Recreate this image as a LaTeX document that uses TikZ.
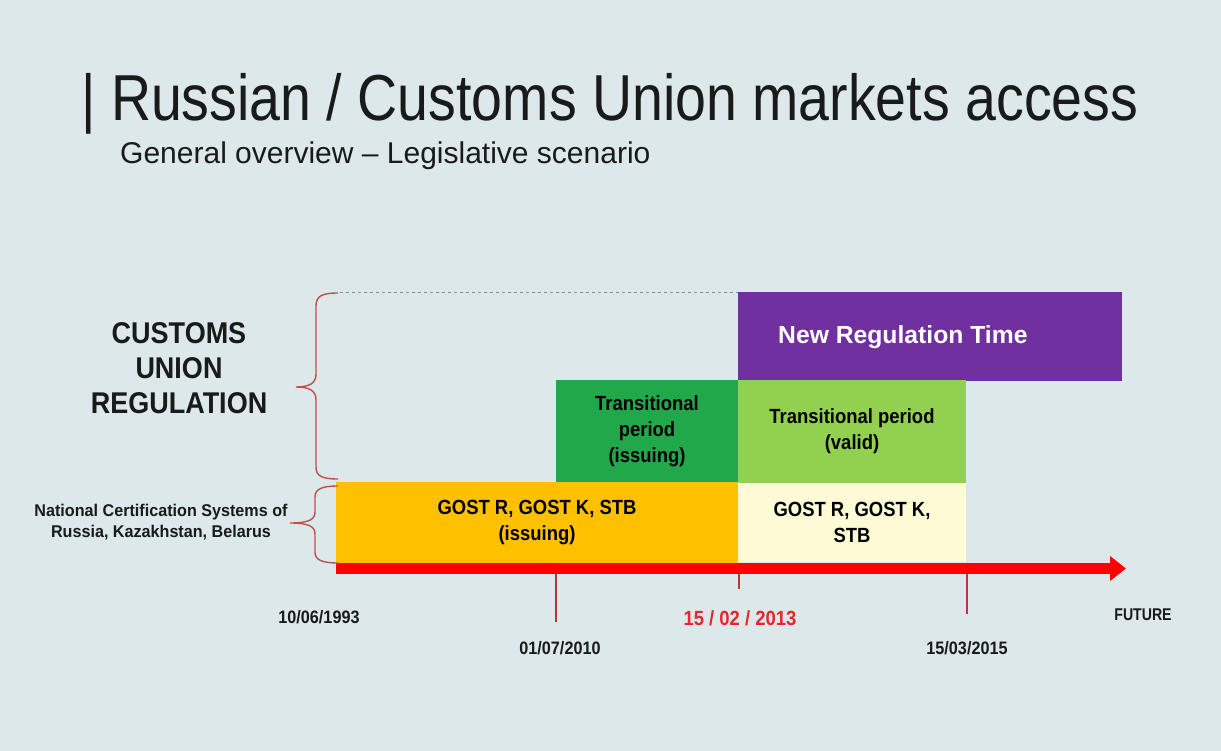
\documentclass[tikz,border=0pt]{standalone}
\usepackage{fontspec}
\setmainfont{Liberation Sans}
% narrower cuts of the same family for the labels
\newfontfamily\titlefont[FakeStretch=0.854]{Liberation Sans}
\newfontfamily\narrowfont[FakeStretch=0.9]{Liberation Sans}
\newfontfamily\semifont[FakeStretch=0.95]{Liberation Sans}
\newfontfamily\tightfont[FakeStretch=0.83]{Liberation Sans}
\usetikzlibrary{arrows.meta}
\definecolor{bg}{HTML}{DDE8EA}
\definecolor{titlegray}{HTML}{1A1A1A}
\definecolor{newreg}{HTML}{7030A0}
\definecolor{transdark}{HTML}{20A84A}
\definecolor{translight}{HTML}{92D050}
\definecolor{gostorange}{HTML}{FFC000}
\definecolor{gostcream}{HTML}{FCFBD6}
\definecolor{bracered}{HTML}{C0504D}
\definecolor{tickred}{HTML}{B23A3A}
\definecolor{datered}{HTML}{E8262C}
\definecolor{dashgray}{HTML}{8090A8}
\tikzset{
  period/.style={anchor=north west, inner sep=0pt, outer sep=0pt, align=center,
    font=\narrowfont\bfseries\fontsize{20.5}{26}\selectfont, text=black},
  datelabel/.style={font=\narrowfont\bfseries\fontsize{18}{20}\selectfont, text=titlegray, inner sep=0pt},
  brace/.style={draw=bracered, line width=1.4pt},
  tick/.style={draw=tickred, line width=1.8pt},
}
\begin{document}
\begin{tikzpicture}[x=1pt,y=-1pt]
  \useasboundingbox (0,0) rectangle (1221,751);
  \fill[bg] (0,0) rectangle (1221,751);

  % heading
  \node[anchor=base west, inner sep=0pt, text=titlegray,
        font=\titlefont\fontsize{65}{70}\selectfont] (title) at (81,121)
        {| Russian / Customs Union markets access};
  \node[anchor=base west, inner sep=0pt, text=titlegray,
        font=\fontsize{30}{34}\selectfont] (subtitle) at (120,164)
        {General overview -- Legislative scenario};

  % period blocks
  \node[period, fill=newreg, minimum width=384pt, minimum height=89pt] (newreg) at (738,292) {};
  \node[anchor=west, inner sep=0pt, text=white, font=\bfseries\fontsize{24.7}{28}\selectfont]
        (newregtext) at (778,337) {New Regulation Time};
  \node[period, fill=transdark, minimum width=182pt, minimum height=102pt] (transiss) at (556,380)
        {Transitional\\period\\(issuing)};
  \node[period, fill=translight, minimum width=228pt, minimum height=103pt] (transval) at (738,380)
        {Transitional period\\(valid)};
  \node[period, fill=gostorange, minimum width=402pt, minimum height=81pt] (gostiss) at (336,482)
        {GOST R, GOST K, STB\\(issuing)};
  \node[period, fill=gostcream, minimum width=228pt, minimum height=79pt] (gostval) at (738,483)
        {GOST R, GOST K,\\STB};

  % dashed guide to the new regulation block
  \coordinate (dashstart) at (340,292);
  \draw[dashgray, dashed, line width=0.8pt] (dashstart) -- (newreg.north west);

  % time axis
  \coordinate (axisstart) at (336,568.5);
  \coordinate (axisend) at (1126,568.5);
  \draw[red, line width=11pt, -{Triangle[length=16pt,width=24pt]}] (axisstart) -- (axisend);

  % milestone ticks
  \coordinate (t2010) at (556,574);  \coordinate (t2010e) at (556,622);
  \coordinate (t2013) at (739,574);  \coordinate (t2013e) at (739,589);
  \coordinate (t2015) at (967,574);  \coordinate (t2015e) at (967,614);
  \draw[tick] (t2010) -- (t2010e);
  \draw[tick] (t2013) -- (t2013e);
  \draw[tick] (t2015) -- (t2015e);

  % dates
  \node[datelabel] (d1993) at (319,617) {10/06/1993};
  \node[datelabel] (d2010) at (560,648) {01/07/2010};
  \node[datelabel, text=datered, font=\narrowfont\bfseries\fontsize{20.5}{22}\selectfont] (d2013) at (740,618) {15 / 02 / 2013};
  \node[datelabel] (d2015) at (967,648) {15/03/2015};
  \node[datelabel, font=\tightfont\bfseries\fontsize{17}{19}\selectfont] (future) at (1143,615) {FUTURE};

  % left side labels
  \node[align=center, inner sep=0pt, text=titlegray, font=\narrowfont\bfseries\fontsize{30}{35}\selectfont]
        (cureg) at (179,368) {CUSTOMS\\UNION\\REGULATION};
  \node[align=center, inner sep=0pt, text=titlegray, font=\semifont\bfseries\fontsize{17}{21}\selectfont]
        (natsys) at (161,522) {National Certification Systems of\\Russia, Kazakhstan, Belarus};

  % braces
  \draw[brace] (338,293) .. controls (322,293) and (316,296) .. (316,306)
        -- (316,374) .. controls (316,383) and (310,387) .. (296,387)
        .. controls (310,387) and (316,391) .. (316,400)
        -- (316,467) .. controls (316,476) and (322,479) .. (338,479);
  \draw[brace] (338,486) .. controls (322,486) and (315,489) .. (315,497)
        -- (315,512) .. controls (315,519) and (310,523) .. (290,523)
        .. controls (310,523) and (315,527) .. (315,534)
        -- (315,552) .. controls (315,560) and (322,563) .. (338,563);
\end{tikzpicture}
\end{document}
